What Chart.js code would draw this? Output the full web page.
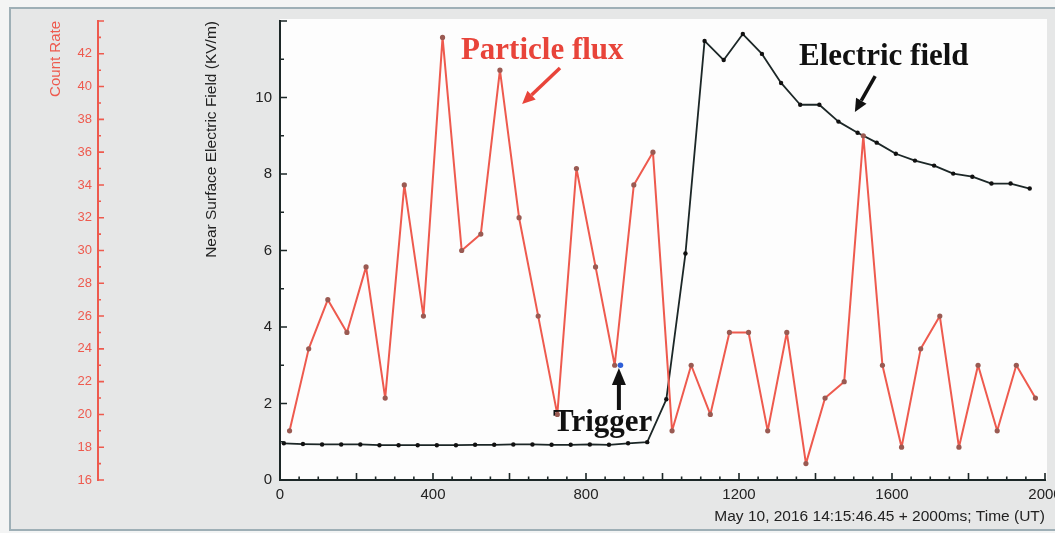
<!DOCTYPE html>
<html>
<head>
<meta charset="utf-8">
<script src="https://cdn.jsdelivr.net/npm/chart.js@4.4.1/dist/chart.umd.min.js"></script>
<style>
  html, body { margin: 0; padding: 0; background: #f3f4f4; }
  canvas { display: block; }
</style>
</head>
<body>
<canvas id="chart" width="1055" height="533"></canvas>
<script>
// time of each bin (ms after trigger window start)
const fluxTimes = [25, 75, 125, 175, 225, 275, 325, 375, 425, 475,
    525, 575, 625, 675, 725, 775, 825, 875, 925, 975,
    1025, 1075, 1125, 1175, 1225, 1275, 1325, 1375, 1425, 1475,
    1525, 1575, 1625, 1675, 1725, 1775, 1825, 1875, 1925, 1975];
const fluxCounts = [19, 24, 27, 25, 29, 21, 34, 26, 43, 30,
    31, 41, 32, 26, 20, 35, 29, 23, 34, 36,
    19, 23, 20, 25, 25, 19, 25, 17, 21, 22,
    37, 23, 18, 24, 26, 18, 23, 19, 23, 21];

const fieldTimes = [10, 60, 110, 160, 210, 260, 310, 360, 410, 460,
    510, 560, 610, 660, 710, 760, 810, 860, 910, 960,
    1010, 1060, 1110, 1160, 1210, 1260, 1310, 1360, 1410, 1460,
    1510, 1560, 1610, 1660, 1710, 1760, 1810, 1860, 1910, 1960];
const fieldValues = [0.96, 0.94, 0.93, 0.93, 0.93, 0.91, 0.91, 0.91, 0.91, 0.91,
    0.92, 0.92, 0.93, 0.93, 0.92, 0.92, 0.93, 0.92, 0.96, 0.99,
    2.11, 5.92, 11.48, 10.98, 11.66, 11.14, 10.38, 9.81, 9.81, 9.37,
    9.08, 8.82, 8.53, 8.35, 8.22, 8.01, 7.93, 7.75, 7.75, 7.62];

const triggerTime = [890];
const triggerCount = [23];

const timeTicks = [0, 400, 800, 1200, 1600, 2000];

const RED = '#ee5a4e';
const DARK = '#1c2727';

Chart.defaults.font.family = '"Liberation Sans", Arial, sans-serif';

const toPoints = (xs, ys) => xs.map((t, i) => ({x: t, y: ys[i]}));

// grey panel + white plot area
const panel = {
    id: 'panel',
    beforeDraw(chart) {
        const {ctx, chartArea: a} = chart;
        ctx.save();
        ctx.fillStyle = '#e6e7e7';
        ctx.fillRect(10, 8, 1045, 522);
        ctx.strokeStyle = '#9eafb6';
        ctx.lineWidth = 2;
        ctx.beginPath();
        ctx.moveTo(1056, 8); ctx.lineTo(10, 8); ctx.lineTo(10, 530); ctx.lineTo(1056, 530);
        ctx.stroke();
        ctx.fillStyle = '#fdfdfd';
        ctx.fillRect(a.left, a.top - 2, a.right - a.left + 2, a.bottom - a.top + 2);
        ctx.restore();
    }
};

// tick marks pointing into the plot, like the original software
const innerTicks = {
    id: 'innerTicks',
    afterDraw(chart) {
        const {ctx, scales: {x, yE, yC}} = chart;
        ctx.save();
        ctx.lineWidth = 1.6;
        ctx.strokeStyle = DARK;
        ctx.beginPath();
        for (let t = 0; t <= 2000; t += 50) {
            const px = x.getPixelForValue(t);
            const len = t % 200 === 0 ? 7 : 3.5;
            ctx.moveTo(px, x.top);
            ctx.lineTo(px, x.top - len);
        }
        for (let v = 0; v <= 12; v += 1) {
            const py = yE.getPixelForValue(v);
            const len = v % 2 === 0 ? 7 : 4;
            ctx.moveTo(yE.right, py);
            ctx.lineTo(yE.right + len, py);
        }
        ctx.stroke();
        ctx.strokeStyle = RED;
        ctx.beginPath();
        for (let v = 16; v <= 44; v += 1) {
            const py = yC.getPixelForValue(v);
            const len = v % 2 === 0 ? 6 : 3;
            ctx.moveTo(yC.right, py);
            ctx.lineTo(yC.right + len, py);
        }
        ctx.stroke();
        ctx.restore();
    }
};

function arrow(ctx, x1, y1, x2, y2, color, w, headLen, headW) {
    const a = Math.atan2(y2 - y1, x2 - x1);
    const bx = x2 - headLen * Math.cos(a);
    const by = y2 - headLen * Math.sin(a);
    ctx.strokeStyle = color;
    ctx.fillStyle = color;
    ctx.lineWidth = w;
    ctx.beginPath();
    ctx.moveTo(x1, y1);
    ctx.lineTo(bx, by);
    ctx.stroke();
    ctx.beginPath();
    ctx.moveTo(x2, y2);
    ctx.lineTo(bx + headW * Math.sin(a), by - headW * Math.cos(a));
    ctx.lineTo(bx - headW * Math.sin(a), by + headW * Math.cos(a));
    ctx.closePath();
    ctx.fill();
}

// the hand-placed labels and arrows of the figure
const notes = {
    id: 'notes',
    afterDraw(chart) {
        const {ctx, scales: {x, yE}} = chart;
        const X = v => x.getPixelForValue(v);
        const Y = v => yE.getPixelForValue(v);
        ctx.save();
        ctx.font = 'bold 31px "Liberation Serif", serif';
        ctx.textBaseline = 'alphabetic';
        ctx.textAlign = 'left';
        ctx.fillStyle = '#e8443a';
        ctx.fillText('Particle flux', X(473), Y(11.0));
        ctx.fillStyle = '#111';
        ctx.fillText('Electric field', X(1357), Y(10.85));
        ctx.fillText('Trigger', X(714), Y(1.28));
        arrow(ctx, X(732), Y(10.77), X(633), Y(9.83), '#e8443a', 3.5, 13, 6);
        arrow(ctx, X(1556), Y(10.56), X(1503), Y(9.62), '#111', 3.5, 13, 6);
        arrow(ctx, X(886), Y(1.83), X(886), Y(2.93), '#111', 4, 17, 7);
        ctx.restore();
    }
};

new Chart(document.getElementById('chart'), {
    type: 'line',
    data: {
        datasets: [{
            label: 'Trigger',
            data: toPoints(triggerTime, triggerCount),
            yAxisID: 'yC',
            showLine: false,
            pointRadius: 2.8,
            pointBackgroundColor: '#2f5fd8',
            pointBorderWidth: 0
        }, {
            label: 'Particle flux',
            data: toPoints(fluxTimes, fluxCounts),
            yAxisID: 'yC',
            borderColor: RED,
            borderWidth: 2,
            borderJoinStyle: 'round',
            tension: 0,
            pointRadius: 2.6,
            pointBackgroundColor: '#9a5a52',
            pointBorderWidth: 0
        }, {
            label: 'Electric field',
            data: toPoints(fieldTimes, fieldValues),
            yAxisID: 'yE',
            borderColor: DARK,
            borderWidth: 1.8,
            borderJoinStyle: 'round',
            tension: 0,
            pointRadius: 2.2,
            pointBackgroundColor: '#111',
            pointBorderWidth: 0
        }]
    },
    options: {
        responsive: false,
        animation: false,
        layout: {padding: {left: 0, top: 21, right: 10, bottom: 0}},
        plugins: {legend: {display: false}, tooltip: {enabled: false}},
        scales: {
            x: {
                type: 'linear',
                position: 'bottom',
                min: 0,
                max: 2000,
                afterBuildTicks: s => { s.ticks = timeTicks.map(v => ({value: v})); },
                afterFit: s => { s.height = 53; s.paddingLeft = 0; s.paddingRight = 0; },
                grid: {display: false, drawTicks: false},
                border: {color: DARK, width: 2},
                ticks: {
                    color: '#222',
                    font: {size: 15},
                    padding: 6,
                    maxRotation: 0,
                    autoSkip: false,
                    callback: v => String(v)
                },
                title: {
                    display: true,
                    text: 'May 10, 2016 14:15:46.45 + 2000ms; Time (UT)',
                    align: 'end',
                    color: '#222',
                    font: {size: 15.5},
                    padding: {top: 0, bottom: 7}
                }
            },
            yE: {
                type: 'linear',
                position: 'left',
                weight: 0,
                min: 0,
                max: 12,
                afterFit: s => { s.width = 182; },
                grid: {display: false, drawTicks: false},
                border: {color: DARK, width: 2},
                ticks: {
                    stepSize: 2,
                    color: '#222',
                    font: {size: 15},
                    padding: 8,
                    callback: v => v === 12 ? '' : String(v)
                },
                title: {
                    display: true,
                    text: 'Near Surface Electric Field (KV/m)',
                    align: 'end',
                    color: '#222',
                    font: {size: 15.5},
                    padding: {top: 104, bottom: 0}
                }
            },
            yC: {
                type: 'linear',
                position: 'left',
                weight: 1,
                min: 16,
                max: 44,
                afterFit: s => { s.width = 98; },
                grid: {display: false, drawTicks: false},
                border: {color: RED, width: 2},
                ticks: {
                    stepSize: 2,
                    color: RED,
                    font: {size: 13},
                    padding: 6,
                    callback: v => v === 44 ? '' : String(v)
                },
                title: {
                    display: true,
                    text: 'Count Rate',
                    align: 'end',
                    color: RED,
                    font: {size: 15},
                    padding: {top: 47, bottom: 0}
                }
            }
        }
    },
    plugins: [panel, innerTicks, notes]
});
</script>
</body>
</html>
